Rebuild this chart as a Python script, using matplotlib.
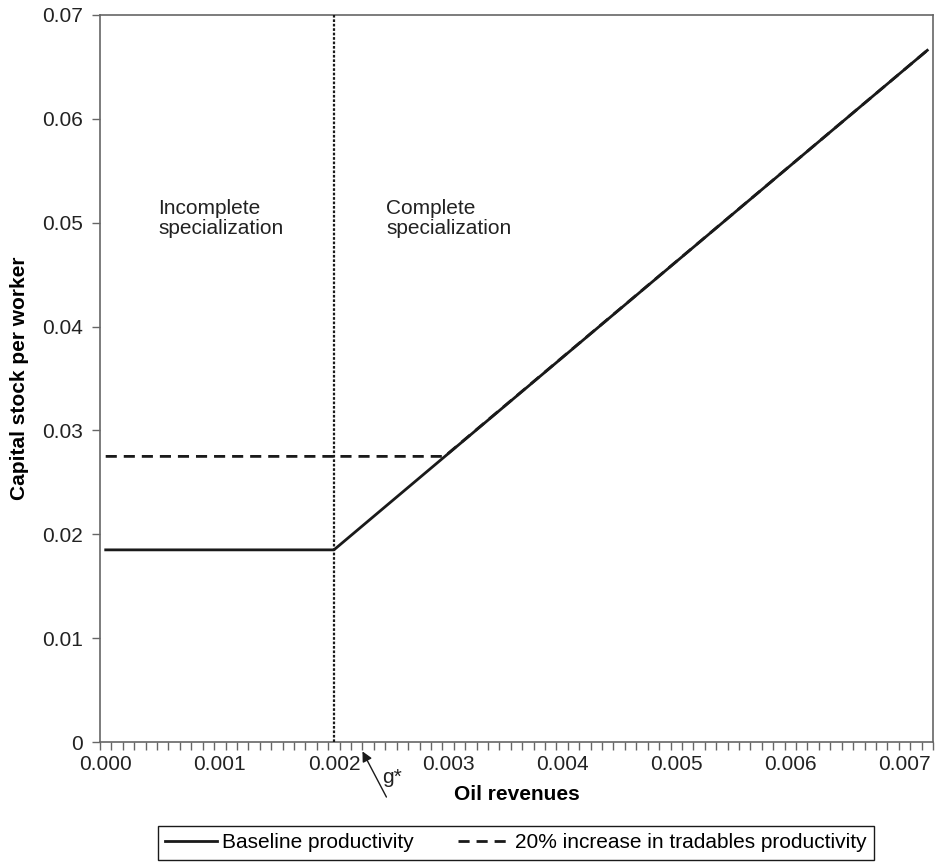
import matplotlib
matplotlib.use("Agg")
import matplotlib.pyplot as plt
import numpy as np

plt.rcParams['font.family'] = ['Liberation Sans', 'DejaVu Sans']

# Data
baseline_x = [0.0, 0.002, 0.0072]
baseline_y = [0.0185, 0.0185, 0.0666]
increase_x = [0.0, 0.00297, 0.0072]
increase_y = [0.0275, 0.0275, 0.0666]
threshold_x = 0.002
gstar_x = 0.00225

x_major = [0.000, 0.001, 0.002, 0.003, 0.004, 0.005, 0.006, 0.007]
x_labels = ["0.000", "0.001", "0.002", "0.003", "0.004", "0.005", "0.006", "0.007"]
y_ticks = [0, 0.01, 0.02, 0.03, 0.04, 0.05, 0.06, 0.07]
y_labels = ["0", "0.01", "0.02", "0.03", "0.04", "0.05", "0.06", "0.07"]

W, H = 940, 864
fig = plt.figure(figsize=(W / 100, H / 100), dpi=100)
ax = fig.add_axes([100 / W, (H - 742) / H, 833 / W, (742 - 15) / H])

fs = 15
spine_col = '#666666'

ax.plot(increase_x, increase_y, color='#1a1a1a', lw=2.0, dashes=(4.0, 2.5),
        label='20% increase in tradables productivity', zorder=2)
ax.plot(baseline_x, baseline_y, color='#1a1a1a', lw=2.0,
        label='Baseline productivity', zorder=3)
ax.axvline(threshold_x, color='#1a1a1a', lw=1.6, ls=(0, (1.2, 0.8)), zorder=4)

ax.set_xlim(-0.00005, 0.00725)
ax.set_ylim(0, 0.07)

# x ticks: minor marks at category boundaries, labels at 0.001 steps without marks
minor = np.arange(-0.00005, 0.00726, 0.0001)
ax.set_xticks(minor, minor=True)
ax.set_xticks(x_major)
ax.set_xticklabels(x_labels, fontsize=fs, color='#222222')
ax.tick_params(axis='x', which='major', length=0, pad=9)
ax.tick_params(axis='x', which='minor', length=6, width=1.0, color=spine_col, direction='out')
ax.set_yticks(y_ticks)
ax.set_yticklabels(y_labels, fontsize=fs, color='#222222')
ax.tick_params(axis='y', which='major', length=6, width=1.0, color=spine_col, direction='out', pad=6)

for s in ax.spines.values():
    s.set_color(spine_col)
    s.set_linewidth(1.2)

ax.set_xlabel('Oil revenues', fontsize=fs, fontweight='bold', labelpad=8)
ax.set_ylabel('Capital stock per worker', fontsize=fs, fontweight='bold', labelpad=10)

ax.text(0.00046, 0.0523, 'Incomplete\nspecialization', fontsize=fs, color='#222222',
        va='top', ha='left', linespacing=1.05)
ax.text(0.00246, 0.0523, 'Complete\nspecialization', fontsize=fs, color='#222222',
        va='top', ha='left', linespacing=1.05)

ax.annotate('', xy=(gstar_x, -0.0009), xytext=(0.00246, -0.0053),
            arrowprops=dict(arrowstyle='-|>', color='#1a1a1a', lw=1.0,
                            mutation_scale=15, shrinkA=0, shrinkB=0),
            annotation_clip=False)
ax.text(0.00242, -0.0034, 'g*', fontsize=fs, color='#222222', va='center', ha='left',
        clip_on=False)

handles, labels = ax.get_legend_handles_labels()
leg = fig.legend([handles[1], handles[0]], [labels[1], labels[0]], ncol=2,
                 loc='upper center', bbox_to_anchor=(516 / W, (H - 826) / H),
                 fontsize=fs, frameon=True, fancybox=False, edgecolor='#1a1a1a',
                 framealpha=1, handlelength=2.5, handletextpad=0.25,
                 columnspacing=2.1, borderpad=0.35, borderaxespad=0)
leg.get_frame().set_linewidth(1.0)

fig.savefig('out.png', dpi=100)
